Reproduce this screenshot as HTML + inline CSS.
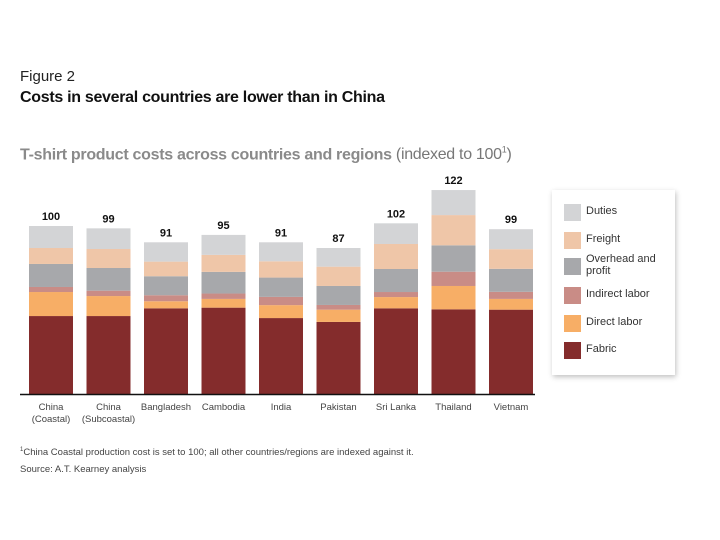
<!DOCTYPE html>
<html><head><meta charset="utf-8"><style>
body{margin:0;background:#fff;font-family:"Liberation Sans",sans-serif;}
#wrap{position:relative;width:720px;height:540px;overflow:hidden;}
.t{position:absolute;white-space:nowrap;}
</style></head><body>
<div id="wrap">
<div class="t" style="left:20px;top:68px;font-size:15px;color:#222;">Figure 2</div>
<div class="t" style="left:20px;top:89px;font-size:16px;font-weight:bold;color:#111;letter-spacing:-0.3px;">Costs in several countries are lower than in China</div>
<div class="t" style="left:20px;top:145px;font-size:16px;color:#8a8a8a;letter-spacing:-0.3px;"><b>T-shirt product costs across countries and regions</b> <span style="font-weight:normal;color:#777">(indexed to 100<sup style="font-size:9px">1</sup>)</span></div>
<svg id="chart" width="720" height="540" style="position:absolute;left:0;top:0"></svg>
<div style="position:absolute;left:552px;top:190px;width:123px;height:185px;background:#fff;box-shadow:1px 2px 5px rgba(0,0,0,0.25);"></div>
<div id="legend-items"></div>
<div class="t" style="left:20px;top:447px;font-size:9.5px;color:#444;"><sup style="font-size:6px">1</sup>China Coastal production cost is set to 100; all other countries/regions are indexed against it.</div>
<div class="t" style="left:20px;top:464px;font-size:9.5px;color:#444;">Source: A.T. Kearney analysis</div>
</div>
<script>
const categories=["China|(Coastal)","China|(Subcoastal)","Bangladesh","Cambodia","India","Pakistan","Sri Lanka","Thailand","Vietnam"];
const totals=[100,99,91,95,91,87,102,122,99];
const fabric=[46.4,46.4,51,51.4,45.2,42.9,51,50.4,50.2];
const directLabor=[14.3,11.9,4.2,5.2,7.7,7.3,6.7,13.9,6.4];
const indirectLabor=[3,3.2,3.6,3.2,4.9,2.8,3,8.5,4.2];
const overhead=[13.7,13.5,11.3,12.9,11.5,11.3,13.7,15.7,13.7];
const freight=[9.5,11.3,8.7,10.1,9.7,11.5,14.9,18,11.7];
const duties=[13.1,12.3,11.5,11.9,11.3,11.1,12.3,14.9,11.9];
const seriesNames=["Fabric","Direct labor","Indirect labor","Overhead and profit","Freight","Duties"];
const series=[fabric,directLabor,indirectLabor,overhead,freight,duties];
const colors=["#842c2c","#f7ae66","#c98c86","#a7a8ab","#efc6a8","#d3d4d6"];
const NS="http://www.w3.org/2000/svg";
const svg=document.getElementById('chart');
const base=394, k=1.68, x0=29, pitch=57.5, bw=44;
const y=v=>base-v*k;
const xb=i=>x0+i*pitch;
function mk(tag,a){const e=document.createElementNS(NS,tag);for(const n in a)e.setAttribute(n,a[n]);svg.appendChild(e);return e;}
categories.forEach((c,i)=>{
  let cum=0;
  series.forEach((s,j)=>{
    const r=mk('rect',{x:xb(i),y:y(cum+s[i]),width:bw,height:s[i]*k,fill:colors[j]});
    
    
    cum+=s[i];
  });
  const t=mk('text',{x:xb(i)+bw/2,y:y(cum)-6,'text-anchor':'middle','font-size':'11','font-weight':'bold',fill:'#111','font-family':'Liberation Sans, sans-serif'});
  t.textContent=totals[i];
  
  
  c.split('|').forEach((ln,li)=>{
    const l=mk('text',{x:xb(i)+bw/2,y:410+li*12,'text-anchor':'middle','font-size':'9.5',fill:'#444','font-family':'Liberation Sans, sans-serif'});
    l.textContent=ln;
    
    
  });
});
const ax=mk('line',{x1:20,x2:535,y1:base+0.5,y2:base+0.5,stroke:'#111','stroke-width':1.5});


const leg=document.getElementById('legend-items');
const legY=[350,323,295,266,240,212];
seriesNames.forEach((n,j)=>{
  const sw=document.createElement('div');
  
  
  sw.style.cssText=`position:absolute;left:564px;top:${legY[j]-8}px;width:17px;height:17px;background:${colors[j]}`;
  leg.appendChild(sw);
  const tx=document.createElement('div');
  
  
  const two=n==="Overhead and profit";
  tx.style.cssText=`position:absolute;left:586px;top:${legY[j]-(two?13:7)}px;font-size:11px;line-height:12px;color:#333;width:85px`;
  tx.innerHTML=two?"Overhead and<br>profit":n;
  leg.appendChild(tx);
});
</script>
</body></html>
